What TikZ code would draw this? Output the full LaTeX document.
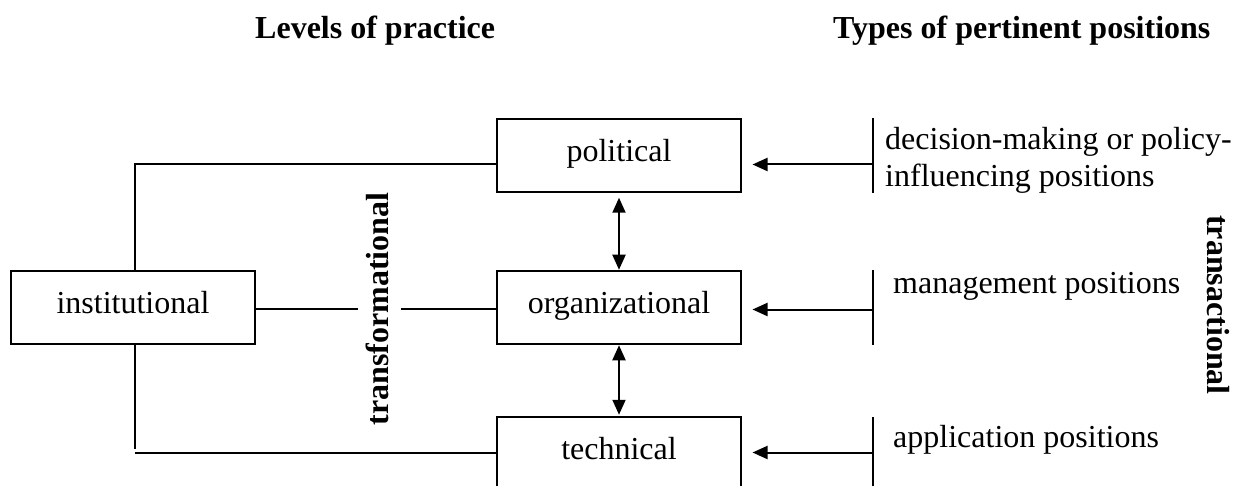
\documentclass[tikz,border=0pt]{standalone}
\usepackage{fontspec}
\setmainfont{Liberation Serif}
\usetikzlibrary{arrows.meta}
\tikzset{
  every picture/.style={x=1pt,y=-1pt},
  lvlbox/.style={draw, line width=2pt, minimum width=244pt, minimum height=73.5pt,
    inner sep=0pt, text height=21pt, text depth=9pt, font=\fontsize{32}{36.8}\selectfont},
  conn/.style={line width=2pt},
  arr/.style={conn, -{Triangle[length=15pt,width=13pt]}},
  darr/.style={conn, {Triangle[length=15pt,width=13pt]}-{Triangle[length=15pt,width=13pt]}},
  lbl/.style={inner sep=0pt, anchor=base west, font=\fontsize{32}{36.8}\selectfont},
  hdr/.style={inner sep=0pt, anchor=base west, font=\fontsize{32}{36.8}\selectfont\bfseries},
  rot/.style={inner sep=0pt, font=\fontsize{32}{36.8}\selectfont\bfseries},
}
\begin{document}
\begin{tikzpicture}
\useasboundingbox (0,0) rectangle (1239,486);
\clip (0,0) rectangle (1239,486);
\fill[white] (0,0) rectangle (1239,486);

% headers
\node[hdr] (h1) at (255,39) {Levels of practice};
\node[hdr] (h2) at (833,39) {Types of pertinent positions};

% boxes
\node[lvlbox] (inst) at (133,307.5) {institutional};
\node[lvlbox] (pol) at (619,155.5) {political};
\node[lvlbox] (org) at (619,307.5) {organizational};
\node[lvlbox] (tech) at (619,453.5) {technical};

% transformational label
\node[rot, rotate=90] (trf) at (377,309) {transformational};

% left connectors
\coordinate (tl) at (135,164.5);
\coordinate (bl) at (135,452.5);
\draw[conn] (inst.north -| tl) -- (tl) -- (tl -| pol.west);
\draw[conn] (inst.south -| bl) -- (135,449);
\draw[conn] (bl) -- (bl -| tech.west);
\coordinate (g1) at (358,308.5);
\coordinate (g2) at (401,308.5);
\draw[conn] (inst.east |- g1) -- (g1);
\draw[conn] (g2) -- (g2 -| org.west);

% vertical double arrows
\draw[darr, shorten <=4.5pt] (pol.south) -- (org.north);
\draw[darr, shorten >=1pt] (org.south) -- (tech.north);

% right bars
\coordinate (pb) at (873,164.5);
\coordinate (ob) at (873,309.5);
\coordinate (tb) at (873,452.5);
\draw[conn] (873,118) -- (873,193);
\draw[conn] (873,270) -- (873,345);
\draw[conn] (873,417) -- (873,490);
\draw[arr, shorten >=10.5pt] (pb) -- (pb -| pol.east);
\draw[arr, shorten >=10.5pt] (ob) -- (ob -| org.east);
\draw[arr, shorten >=10.5pt] (tb) -- (tb -| tech.east);

% right labels
\node[lbl] (p1) at (885,150) {decision-making or policy-};
\node[lbl] (p2) at (885,186.7) {influencing positions};
\node[lbl] (m1) at (893,294) {management positions};
\node[lbl] (a1) at (893,447) {application positions};

% transactional label
\node[rot, rotate=-90] (trs) at (1218,305) {transactional};
\end{tikzpicture}
\end{document}
